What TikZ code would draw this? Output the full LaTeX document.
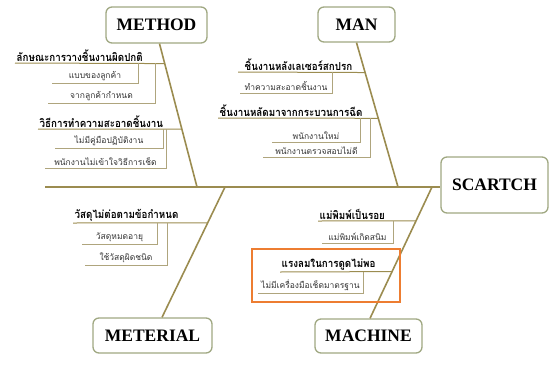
\documentclass[tikz,border=0pt]{standalone}
\usepackage{fontspec}
\setmainfont{Liberation Serif}
\newfontfamily\thaifont[Script=Thai]{Loma}
\newfontfamily\thaicond[Script=Thai, FakeStretch=0.89]{Loma}
\usetikzlibrary{calc}

\definecolor{boneline}{RGB}{155,140,80}
\definecolor{leafline}{RGB}{175,165,125}
\definecolor{boxline}{RGB}{160,168,130}
\definecolor{markline}{RGB}{237,125,49}

\tikzset{
  headbox/.style={draw=boxline, line width=1.3pt, rounded corners=6pt, fill=white,
    font=\bfseries\fontsize{17.5}{20}\selectfont, inner sep=0pt},
  cause/.style={font=\thaicond\bfseries\fontsize{11}{12}\selectfont, inner sep=1.5pt},
  subcause/.style={font=\thaifont\fontsize{8.5}{10}\selectfont, text=black!80, inner sep=1.5pt},
  bone/.style={draw=boneline, line width=1.6pt},
  twig/.style={draw=boneline, line width=1pt},
  leaf/.style={draw=leafline, line width=1pt}
}

\begin{document}
\begin{tikzpicture}[x=1pt, y=-1pt]
  \useasboundingbox (0,0) rectangle (551,367);

  % ==========================================
  % TÊTE ET ARÊTE PRINCIPALE
  % ==========================================
  \node[headbox, minimum width=107pt, minimum height=56pt] (head) at (494.5,185) {SCARTCH};
  \coordinate (tail) at (45,187);
  \draw[bone] (tail) -- (head.west |- tail);

  % Catégories
  \node[headbox, minimum width=101pt, minimum height=36pt] (method) at (156.5,25) {METHOD};
  \node[headbox, minimum width=77pt, minimum height=35pt] (man) at (356.5,24.5) {MAN};
  \node[headbox, minimum width=119pt, minimum height=35pt] (meterial) at (152.5,335.5) {METERIAL};
  \node[headbox, minimum width=107pt, minimum height=34pt] (machine) at (368.5,336) {MACHINE};

  % Jonctions sur l'arête
  \coordinate (jmethod) at (197,187);
  \coordinate (jman) at (398,187);
  \coordinate (jmeterial) at (225,187);
  \coordinate (jmachine) at (432,187);

  \draw[bone] ([xshift=3pt]method.south) -- (jmethod);
  \draw[bone] (man.south) -- (jman);
  \draw[bone] ([xshift=9.5pt]meterial.north) -- (jmeterial);
  \draw[bone] ([xshift=1.5pt]machine.north) -- (jmachine);

  % ==========================================
  % METHOD
  % ==========================================
  \coordinate (m1l) at (15,63);
  \coordinate (m1r) at ($([xshift=3pt]method.south)!0.139!(jmethod)$);
  \draw[twig] (m1l) -- (m1r);
  \node[cause, above right] (m1) at (m1l) {ลักษณะการวางชิ้นงานผิดปกติ};
  \draw[leaf] (52,83) -- node[subcause, above] (m11) {แบบของลูกค้า} (138,83) -- (138,63);
  \draw[leaf] (48,103) -- node[subcause, above] (m12) {จากลูกค้ากำหนด} (155,103) -- (155,63);

  \coordinate (m2l) at (38,129);
  \coordinate (m2r) at ($([xshift=3pt]method.south)!0.597!(jmethod)$);
  \draw[twig] (m2l) -- (m2r);
  \node[cause, above right] (m2) at (m2l) {วิธีการทำความสะอาดชิ้นงาน};
  \draw[leaf] (55,148) -- node[subcause, above] (m21) {ไม่มีคู่มือปฏิบัติงาน} (163,148) -- (163,129);
  \draw[leaf] (45,168) -- node[subcause, above] (m22) {พนักงานไม่เข้าใจวิธีการเช็ด} (166,168) -- (166,129);

  % ==========================================
  % MAN
  % ==========================================
  \coordinate (n1l) at (238,72);
  \coordinate (n1r) at ($(man.south)!0.207!(jman)$);
  \draw[twig] (n1l) -- (n1r);
  \node[cause, above right] (n1) at ([xshift=5pt]n1l) {ชิ้นงานหลังเลเซอร์สกปรก};
  \draw[leaf] (240,93) -- node[subcause, above] (n11) {ทำความสะอาดชิ้นงาน} (332,93) -- (332,72);

  \coordinate (n2l) at (218,118);
  \coordinate (n2r) at ($(man.south)!0.524!(jman)$);
  \draw[twig] (n2l) -- (n2r);
  \node[cause, above right] (n2) at (n2l) {ชิ้นงานหลัดมาจากกระบวนการฉีด};
  \draw[leaf] (272,142) -- node[subcause, above] (n21) {พนักงานใหม่} (360,142) -- (360,118);
  \draw[leaf] (263,157) -- node[subcause, above] (n22) {พนักงานตรวจสอบไม่ดี} (370,157) -- (370,118);

  % ==========================================
  % METERIAL
  % ==========================================
  \coordinate (t1l) at (73,223);
  \coordinate (t1r) at ($([xshift=9.5pt]meterial.north)!0.725!(jmeterial)$);
  \draw[twig] (t1l) -- (t1r);
  \node[cause, above right] (t1) at (t1l) {วัสดุไม่ต่อตามข้อกำหนด};
  \draw[leaf] (82,244) -- node[subcause, above] (t11) {วัสดุหมดอายุ} (157,244) -- (157,223);
  \draw[leaf] (85,265) -- node[subcause, above] (t12) {ใช้วัสดุผิดชนิด} (167,265) -- (167,223);

  % ==========================================
  % MACHINE
  % ==========================================
  \coordinate (k1l) at (318,221);
  \coordinate (k1r) at ($([xshift=1.5pt]machine.north)!0.742!(jmachine)$);
  \draw[twig] (k1l) -- (k1r);
  \node[cause, above right] (k1) at (k1l) {แม่พิมพ์เป็นรอย};
  \draw[leaf] (322,243) -- node[subcause, above] (k11) {แม่พิมพ์เกิดสนิม} (393,243) -- (393,221);

  \coordinate (k2l) at (280,272);
  \coordinate (k2r) at ($([xshift=1.5pt]machine.north)!0.356!(jmachine)$);
  \draw[twig] (k2l) -- (k2r);
  \node[cause, above right] (k2) at (k2l) {แรงลมในการดูดไม่พอ};
  \draw[leaf] (258,293) -- node[subcause, above] (k21) {ไม่มีเครื่องมือเช็ดมาตรฐาน} (363,293) -- (363,272);

  % Cause retenue (cadre orange)
  \draw[markline, line width=1.6pt] (252,249) rectangle (400,302);

\end{tikzpicture}
\end{document}
